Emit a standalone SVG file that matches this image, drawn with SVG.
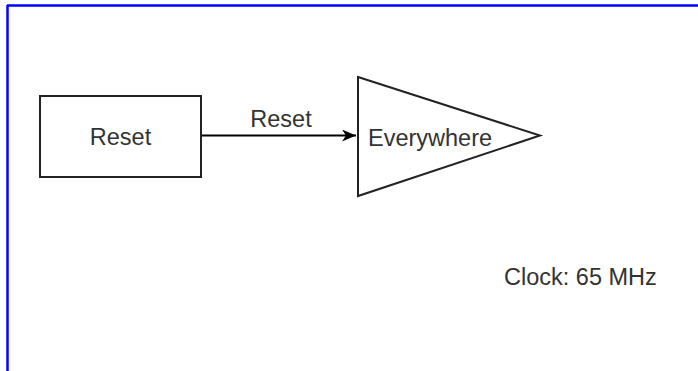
<svg xmlns="http://www.w3.org/2000/svg" width="698" height="371" viewBox="0 0 698 371">
<style>
.t{font-family:"Liberation Sans",Arial,sans-serif;font-size:23.5px;fill:#333}
.s{fill:#fff;stroke:#222;stroke-width:2}
</style>
<defs>
<marker id="ah" markerWidth="16" markerHeight="12" refX="14" refY="6" orient="auto" markerUnits="userSpaceOnUse">
<path d="M0,0 L14,6 L0,12 L4,6 Z" fill="#000"/>
</marker>
</defs>
<rect width="698" height="371" fill="#fff"/>
<g id="frame">
<line x1="7" y1="5.5" x2="698" y2="5.5" stroke="#0000ff" stroke-width="2.5"/>
<line x1="7.5" y1="5" x2="7.5" y2="371" stroke="#0000ff" stroke-width="2.5"/>
</g>
<g id="connectors">
<line x1="201" y1="135.5" x2="356" y2="135.5" stroke="#000" stroke-width="2" marker-end="url(#ah)"/>
<text class="t" x="281" y="127" text-anchor="middle">Reset</text>
</g>
<g id="reset">
<rect class="s" x="40" y="96" width="161" height="81"/>
<text class="t" x="120.5" y="145" text-anchor="middle">Reset</text>
</g>
<g id="everywhere">
<polygon class="s" points="358,77 540,135.5 358,196"/>
<text class="t" x="368" y="146">Everywhere</text>
</g>
<g id="clock">
<text class="t" x="504" y="285">Clock: 65 MHz</text>
</g>
</svg>
